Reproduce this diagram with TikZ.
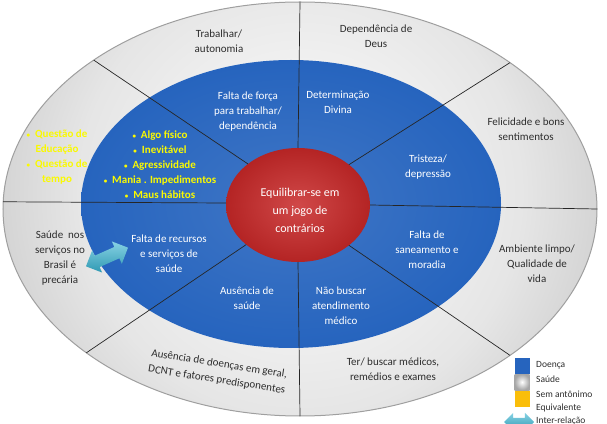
\documentclass[tikz,border=0pt]{standalone}
\usepackage{fontspec}
\setmainfont{Carlito}
\usepackage{xcolor}
\usepackage{tikz}
\usetikzlibrary{shapes.arrows}

\definecolor{doencablue}{RGB}{38,100,190}
\definecolor{centrored}{RGB}{200,40,40}
\definecolor{cianoarrow}{RGB}{55,180,210}
\definecolor{amarelo}{RGB}{250,250,0}
\definecolor{equivyellow}{RGB}{250,190,10}
\definecolor{textgray}{RGB}{45,45,45}

\pgfdeclareradialshading{anel}{\pgfpointorigin}{color(0bp)=(white); color(9bp)=(black!10); color(15.4bp)=(black!24); color(19.8bp)=(black!40); color(24bp)=(black!52); color(50bp)=(black!55)}

\newcommand{\marca}{{\scriptsize\textbullet}~ }

\tikzstyle{saude} = [text=textgray, align=center, font=\fontsize{11}{15}\selectfont]
\tikzstyle{doenca} = [text=white, align=center, font=\fontsize{11}{15}\selectfont]
\tikzstyle{equiv} = [text=amarelo, align=center, font=\bfseries\fontsize{11}{15}\selectfont]
\tikzstyle{centro} = [text=white, align=center, font=\fontsize{12}{18}\selectfont]
\tikzstyle{legenda} = [text=textgray, anchor=west, inner sep=0pt, font=\fontsize{9.5}{12}\selectfont]
\tikzstyle{legbox} = [minimum width=15pt, minimum height=16pt, inner sep=0pt]
\tikzstyle{interrel} = [double arrow, inner xsep=0pt, top color=cianoarrow!60!white, bottom color=cianoarrow!85!black]

\begin{document}
\begin{tikzpicture}[x=1pt, y=1pt]

	\useasboundingbox (0,0) rectangle (607,423);
	\clip (0,0) rectangle (607,423);

	\begin{scope}
		\clip (300,214) ellipse [x radius=297pt, y radius=207pt];
		\shade[shading=anel] (300,230) circle (620pt);
	\end{scope}
	\draw[gray!75, line width=1pt] (300,214) ellipse [x radius=297pt, y radius=207pt];

	\shade[inner color=doencablue!88!white, outer color=doencablue] (291,219) ellipse [x radius=210pt, y radius=144pt];
	\shade[inner color=centrored!85!white, outer color=centrored!90!black] (298,218) ellipse [x radius=72pt, y radius=57pt];

	\foreach \a in {0,45,90,134,178,224,270,315}
		\draw[black!85, line width=0.7pt] ({298+72*cos(\a)},{218+57*sin(\a)}) -- ({300+297*cos(\a)},{214+207*sin(\a)});

	\node (trabalhar) [saude] at (219,382) {Trabalhar/\\autonomia};
	\node (dependenciadeus) [saude] at (376,387) {Dependência de\\Deus};
	\node (felicidade) [saude] at (526,294) {Felicidade e bons\\sentimentos};
	\node (ambiente) [saude] at (537,159) {Ambiente limpo/\\Qualidade de\\vida};
	\node (terbuscar) [saude] at (393,54) {Ter/ buscar médicos,\\remédios e exames};
	\node (ausenciadoencas) [saude, rotate=-9, font=\fontsize{11}{16}\selectfont] at (218,51) {Ausência de doenças em geral,\\DCNT e fatores predisponentes};
	\node (saudebrasil) [saude] at (60,165) {Saúde~ nos\\serviços no\\Brasil é\\precária};
	\node (questao) [equiv] at (57,266) {\marca Questão de\\Educação\\\marca Questão de\\tempo};

	\node (faltaforca) [doenca] at (248,311) {Falta de força\\para trabalhar/\\dependência};
	\node (determinacao) [doenca] at (338,321) {Determinação\\Divina};
	\node (tristeza) [doenca] at (428,256) {Tristeza/\\depressão};
	\node (saneamento) [doenca] at (427,173) {Falta de\\saneamento e\\moradia};
	\node (naobuscar) [doenca] at (341,117) {Não buscar\\atendimento\\médico};
	\node (ausenciasaude) [doenca] at (247,125) {Ausência de\\saúde};
	\node (faltarecursos) [doenca] at (169,169) {Falta de recursos\\e serviços de\\saúde};
	\node (algofisico) [equiv] at (160,258) {\marca Algo físico\\\marca Inevitável\\\marca Agressividade\\\marca Mania . Impedimentos\\\marca Maus hábitos};

	\node (equilibrar) [centro] at (300,213) {Equilibrar-se em\\um jogo de\\contrários};

	\node (setasaude) [interrel, inner ysep=6pt, double arrow head extend=6pt, minimum height=46pt, rotate=24] at (107,166) {};

	\node (legdoenca) [legbox, fill=doencablue] at (522,57) {};
	\node (legsaude) [legbox, shade, inner color=white, outer color=gray!70] at (522,41) {};
	\node (legequiv) [legbox, fill=equivyellow] at (522,24) {};
	\node (leginter) [interrel, inner ysep=4pt, double arrow head extend=5pt, minimum height=30pt] at (519,1) {};

	\node (txtdoenca) [legenda] at (536,58) {Doença};
	\node (txtsaude) [legenda] at (536,44) {Saúde};
	\node (txtsem) [legenda] at (536,29) {Sem antônimo};
	\node (txtequiv) [legenda] at (536,15) {Equivalente};
	\node (txtinter) [legenda] at (536,2) {Inter-relação};

\end{tikzpicture}
\end{document}
